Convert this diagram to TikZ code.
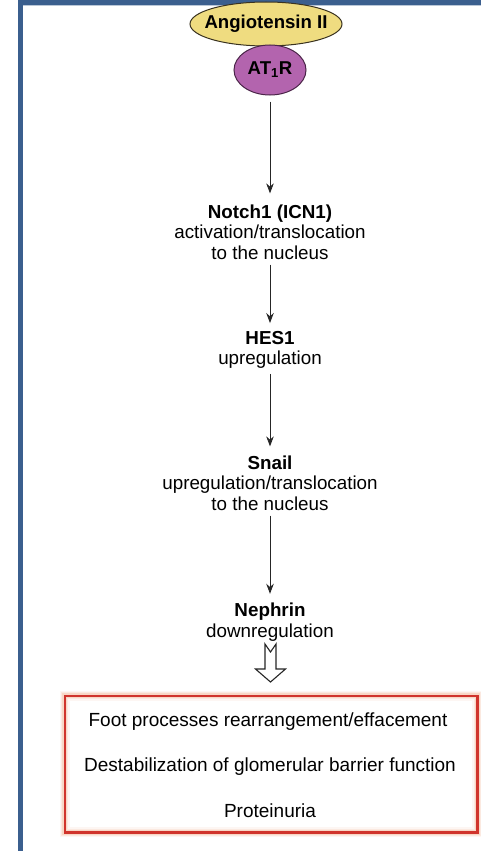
\documentclass[tikz,border=0pt]{standalone}
\usepackage{fontspec}
\setmainfont{Liberation Sans}
\usetikzlibrary{arrows.meta,shapes.geometric,calc}
\definecolor{framblue}{HTML}{3B5F8E}
\definecolor{angfill}{HTML}{EFDC80}
\definecolor{angline}{HTML}{3A3320}
\definecolor{atfill}{HTML}{B364AE}
\definecolor{atline}{HTML}{4A2448}
\definecolor{boxred}{HTML}{D0342C}
\definecolor{glow}{HTML}{F4B08A}
\tikzset{
  lbl/.style={align=center, font=\fontsize{18.8}{20.5}\selectfont, inner sep=1pt},
  outcome/.style={font=\fontsize{19}{21}\selectfont, inner sep=1pt},
  flow/.style={-{Stealth[length=10pt,width=7.5pt]}, line width=0.9pt, black!85},
}
\begin{document}
\begin{tikzpicture}[x=1pt,y=-1pt]
\useasboundingbox (0,0) rectangle (481,851);
\fill[white] (0,0) rectangle (481,851);
% frame bars
\fill[framblue] (18,0) rectangle (23,851);
\fill[framblue] (18,0) rectangle (481,5);
\draw[framblue!35, line width=0.8pt] (23,5.8) -- (481,5.8);

% receptor complex
\node[ellipse, draw=angline, line width=1pt, fill=angfill, minimum width=152, minimum height=44, inner sep=0pt] (ang) at (266,24) {};
\node[font=\fontsize{18.6}{20}\selectfont\bfseries] at (ang) {Angiotensin II};
\node[ellipse, draw=atline, line width=1pt, fill=atfill, minimum width=72, minimum height=50, inner sep=0pt] (at1r) at (270,70) {};
\node[font=\fontsize{18.6}{20}\selectfont\bfseries] at (at1r) {AT$_{\mathbf 1}$R};

% signalling cascade
\node[lbl] (notch) at (270,232) {\textbf{Notch1 (ICN1)}\\activation/translocation\\to the nucleus};
\node[lbl] (hes) at (270,350) {\textbf{HES1}\\upregulation};
\node[lbl] (snail) at (270,483) {\textbf{Snail}\\upregulation/translocation\\to the nucleus};
\node[lbl] (neph) at (270,622) {\textbf{Nephrin}\\downregulation};

\draw[flow] ([yshift=-6pt]at1r.south) -- ([yshift=10pt]notch.north);
\draw[flow] ([yshift=-4pt]notch.south) -- ([yshift=7pt]hes.north);
\draw[flow] ([yshift=-4pt]hes.south) -- ([yshift=8pt]snail.north);
\draw[flow] ([yshift=-4pt]snail.south) -- ([yshift=8pt]neph.north);

% outcome box with a soft orange halo
\node[draw=none, minimum width=412, minimum height=136, inner sep=0pt] (out) at (271,764) {};
\foreach \w/\o in {10/0.10,7/0.18,5/0.3} {
  \draw[glow, line width=\w pt, opacity=\o] (out.north west) rectangle (out.south east);
}
\draw[boxred, line width=2.6pt] (out.north west) rectangle (out.south east);
\node[outcome] (o1) at (268,722) {Foot processes rearrangement/effacement};
\node[outcome] (o2) at (270,767) {Destabilization of glomerular barrier function};
\node[outcome] (o3) at (270,811) {Proteinuria};

% hollow block arrow from the cascade into the outcome box
\coordinate (harrow) at ($(neph.south)!0.5!(out.north)$);
\begin{scope}[shift={(harrow)}]
\draw[line width=1.1pt, black!85, line join=miter, fill=white]
  (-5.5,-25) -- (0,-17) -- (5.5,-25) -- (5.5,0) -- (15,0) -- (0,13)
  -- (-15,0) -- (-5.5,0) -- cycle;
\end{scope}
\end{tikzpicture}
\end{document}
